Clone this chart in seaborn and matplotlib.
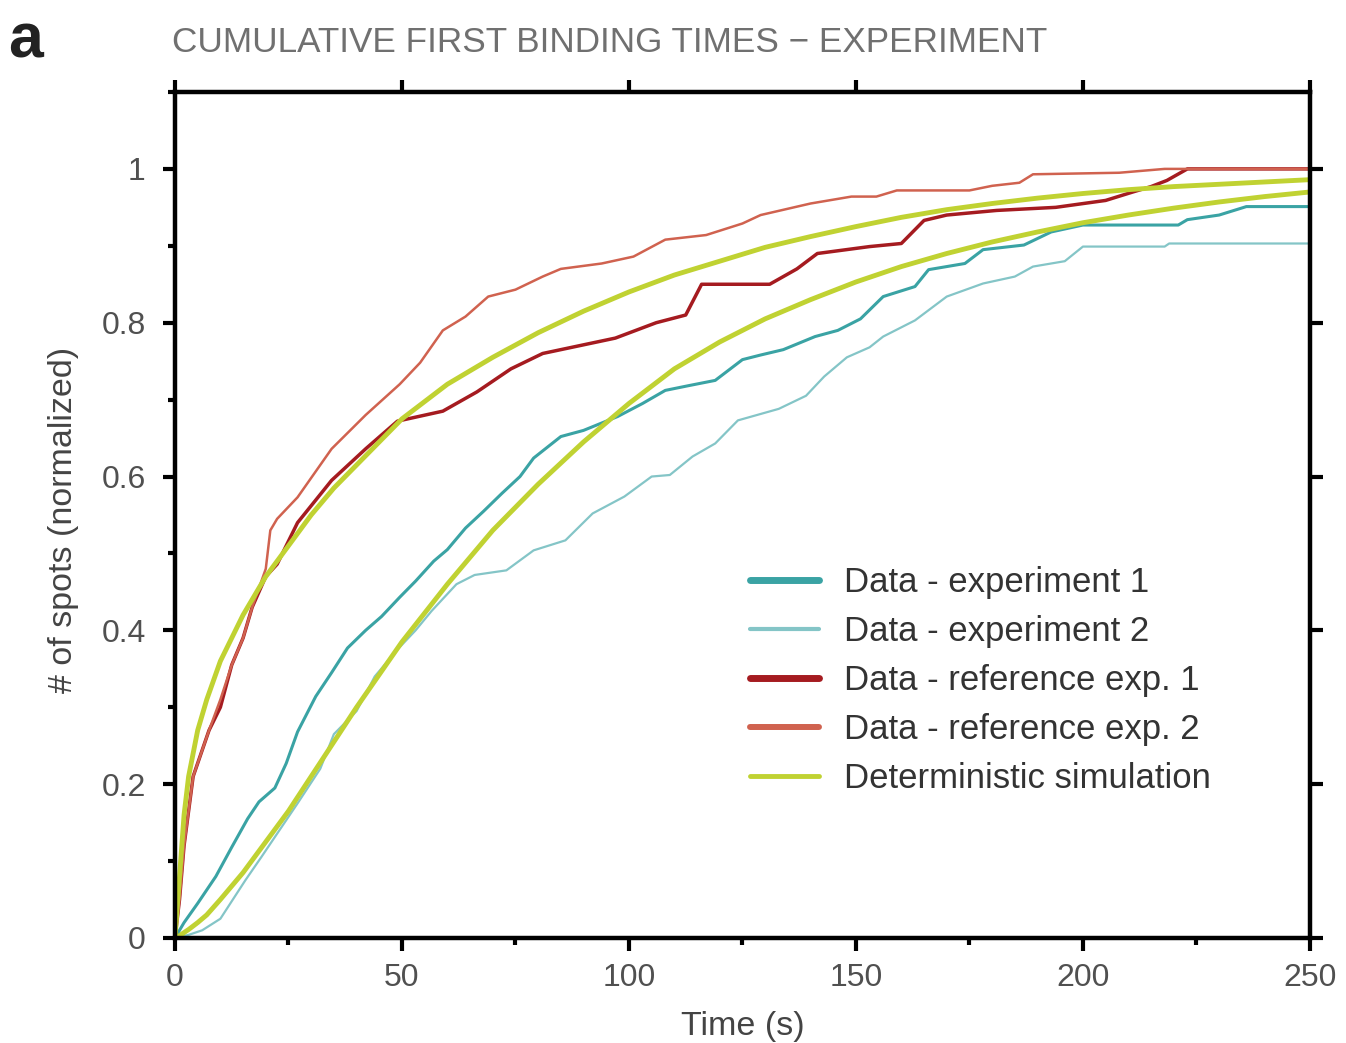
import matplotlib
matplotlib.use("Agg")
import matplotlib.pyplot as plt
import seaborn as sns
from matplotlib.ticker import MultipleLocator

# deterministic simulation (two smooth curves)
t_sim = [0, 1, 2, 3, 5, 7, 10, 15, 20, 25, 30, 35, 40, 50, 60, 70, 80, 90, 100,
         110, 120, 130, 140, 150, 160, 170, 180, 190, 200, 210, 220, 230, 240, 250]
sim_fast = [0, 0.08, 0.16, 0.21, 0.27, 0.31, 0.36, 0.42, 0.47, 0.51, 0.55, 0.585, 0.615,
            0.675, 0.72, 0.755, 0.787, 0.815, 0.84, 0.862, 0.88, 0.898, 0.912, 0.925,
            0.937, 0.947, 0.955, 0.962, 0.968, 0.973, 0.977, 0.98, 0.983, 0.986]
sim_slow = [0, 0.003, 0.007, 0.011, 0.02, 0.03, 0.05, 0.085, 0.125, 0.165, 0.21, 0.255, 0.30,
            0.385, 0.46, 0.53, 0.59, 0.645, 0.695, 0.74, 0.775, 0.805, 0.83, 0.853,
            0.873, 0.89, 0.905, 0.918, 0.93, 0.94, 0.949, 0.957, 0.964, 0.97]

# experiment 1
t_exp1 = [0, 2, 5, 9, 12.5, 16, 18.5, 22, 24.5, 27, 31, 34.5, 38, 42, 45.5, 49.5, 53, 57, 60, 64,
          68, 72, 76, 79, 85, 90, 97.5, 103, 108, 113, 119, 125, 129, 134, 141, 146, 151, 156,
          163, 166, 174, 178, 187, 193, 200, 221, 223, 230, 236, 250]
exp1 = [0, 0.02, 0.045, 0.08, 0.118, 0.155, 0.177, 0.195, 0.227, 0.268, 0.314, 0.345, 0.377,
        0.40, 0.418, 0.443, 0.464, 0.49, 0.505, 0.533, 0.555, 0.578, 0.60, 0.624, 0.652, 0.66,
        0.678, 0.695, 0.712, 0.718, 0.725, 0.752, 0.758, 0.765, 0.782, 0.79, 0.805, 0.834,
        0.847, 0.869, 0.877, 0.895, 0.901, 0.918, 0.927, 0.927, 0.934, 0.94, 0.951, 0.951]

# experiment 2
t_exp2 = [0, 3, 6, 10, 15.5, 19, 23, 27, 32, 35, 40, 44, 49, 53, 56.5, 62, 66, 73, 79, 86,
          92, 99, 105, 109, 114, 119, 124, 133, 139, 143, 148, 153, 156, 163, 170, 178, 185,
          189, 196, 200, 218, 219, 250]
exp2 = [0, 0.004, 0.01, 0.025, 0.075, 0.105, 0.14, 0.175, 0.22, 0.265, 0.295, 0.34, 0.375,
        0.40, 0.425, 0.46, 0.472, 0.478, 0.504, 0.517, 0.552, 0.574, 0.60, 0.602, 0.626,
        0.643, 0.673, 0.688, 0.705, 0.73, 0.755, 0.768, 0.782, 0.803, 0.834, 0.851, 0.86,
        0.873, 0.88, 0.899, 0.899, 0.903, 0.903]

# reference experiment 1
t_ref1 = [0, 1, 2, 4, 7.5, 10, 12.5, 15, 17, 20, 22.5, 27, 34.5, 42, 49, 59, 66.5, 74, 81, 89,
          97, 106, 112.5, 116, 131, 137, 141.5, 153, 160, 165, 170, 181, 194, 205, 211, 215,
          218.5, 223, 250]
ref1 = [0, 0.05, 0.12, 0.21, 0.27, 0.30, 0.355, 0.39, 0.43, 0.47, 0.486, 0.54, 0.595, 0.636,
        0.672, 0.685, 0.71, 0.74, 0.76, 0.77, 0.78, 0.80, 0.81, 0.85, 0.85, 0.87, 0.89, 0.899,
        0.903, 0.933, 0.94, 0.946, 0.95, 0.959, 0.97, 0.977, 0.985, 1.0, 1.0]

# reference experiment 2
t_ref2 = [0, 1, 2, 4, 7.5, 10, 12.5, 15, 17, 20, 21, 22.5, 27, 34.5, 42, 49.5, 54, 59, 64, 69,
          75, 81, 85, 94, 101, 108, 117, 125, 129, 140, 149, 154.5, 159, 175, 180, 186, 189,
          208, 218, 250]
ref2 = [0, 0.05, 0.12, 0.21, 0.27, 0.31, 0.355, 0.39, 0.43, 0.48, 0.53, 0.545, 0.573, 0.636,
        0.68, 0.72, 0.748, 0.79, 0.808, 0.834, 0.843, 0.86, 0.87, 0.877, 0.886, 0.908, 0.914,
        0.929, 0.94, 0.955, 0.964, 0.964, 0.972, 0.972, 0.978, 0.982, 0.993, 0.995, 1.0, 1.0]

x_ticks = [0, 50, 100, 150, 200, 250]
y_ticks = [0, 0.2, 0.4, 0.6, 0.8, 1.0]
y_tick_labels = ["0", "0.2", "0.4", "0.6", "0.8", "1"]

sns.set_theme(style="ticks")
plt.rcParams["font.family"] = ["Liberation Sans", "DejaVu Sans"]

fig = plt.figure(figsize=(13.46, 10.43), dpi=100)
ax = fig.add_axes([0.130, 0.1007, 0.8432, 0.8111])

c_exp1 = "#3aa3a4"
c_exp2 = "#84c5c7"
c_ref1 = "#a51b20"
c_ref2 = "#d0624f"
c_sim = "#c0d232"

sns.lineplot(x=t_exp1, y=exp1, ax=ax, color=c_exp1, linewidth=2.2,
             label="Data - experiment 1", estimator=None, sort=False)
sns.lineplot(x=t_exp2, y=exp2, ax=ax, color=c_exp2, linewidth=1.6,
             label="Data - experiment 2", estimator=None, sort=False)
sns.lineplot(x=t_ref1, y=ref1, ax=ax, color=c_ref1, linewidth=2.5,
             label="Data - reference exp. 1", estimator=None, sort=False)
sns.lineplot(x=t_ref2, y=ref2, ax=ax, color=c_ref2, linewidth=1.8,
             label="Data - reference exp. 2", estimator=None, sort=False)
sns.lineplot(x=t_sim, y=sim_fast, ax=ax, color=c_sim, linewidth=3.5,
             label="Deterministic simulation", estimator=None, sort=False)
sns.lineplot(x=t_sim, y=sim_slow, ax=ax, color=c_sim, linewidth=3.5,
             label="_nolegend_", estimator=None, sort=False)

ax.set_xlim(0, 250)
ax.set_ylim(0, 1.1)
ax.set_xticks(x_ticks)
ax.set_xticklabels([str(v) for v in x_ticks])
ax.set_yticks(y_ticks)
ax.set_yticklabels(y_tick_labels)
ax.xaxis.set_minor_locator(MultipleLocator(25))
ax.yaxis.set_minor_locator(MultipleLocator(0.1))

ax.tick_params(which="major", direction="out", length=9, width=3, color="black",
               top=True, right=True, labeltop=False, labelright=False,
               labelsize=23, labelcolor="#505050")
ax.tick_params(axis="x", which="major", pad=9)
ax.tick_params(axis="y", which="major", pad=12)
ax.tick_params(which="minor", direction="out", length=5, width=3, color="black",
               top=False, right=False, left=True, bottom=True)
for s in ax.spines.values():
    s.set_linewidth(3.2)
    s.set_color("black")

ax.set_xlabel("Time (s)", fontsize=24.5, color="#444444")
ax.set_ylabel("# of spots (normalized)", fontsize=24.5, color="#444444")
ax.yaxis.set_label_coords(-0.085, 0.494)
ax.xaxis.set_label_coords(0.5, -0.086)

leg = ax.legend(loc="upper left", bbox_to_anchor=(750 / 1346, 1 - 566 / 1043),
                bbox_transform=fig.transFigure, frameon=False, fontsize=25,
                handlelength=2.0, handletextpad=0.72, labelspacing=0.46,
                borderpad=0, borderaxespad=0)
for line, lw in zip(leg.get_lines(), [5, 3, 5, 4.3, 3.5]):
    line.set_linewidth(lw)
for txt in leg.get_texts():
    txt.set_color("#333333")

fig.text(172 / 1346, 1 - 43 / 1043, "CUMULATIVE FIRST BINDING TIMES \u2212 EXPERIMENT",
         fontsize=25.3, color="#707070", ha="left", va="center")
fig.text(0.006, 1 - 41 / 1043, "a", fontsize=45, fontweight="bold", color="#222222",
         ha="left", va="center")

fig.savefig("out.png", dpi=100)
